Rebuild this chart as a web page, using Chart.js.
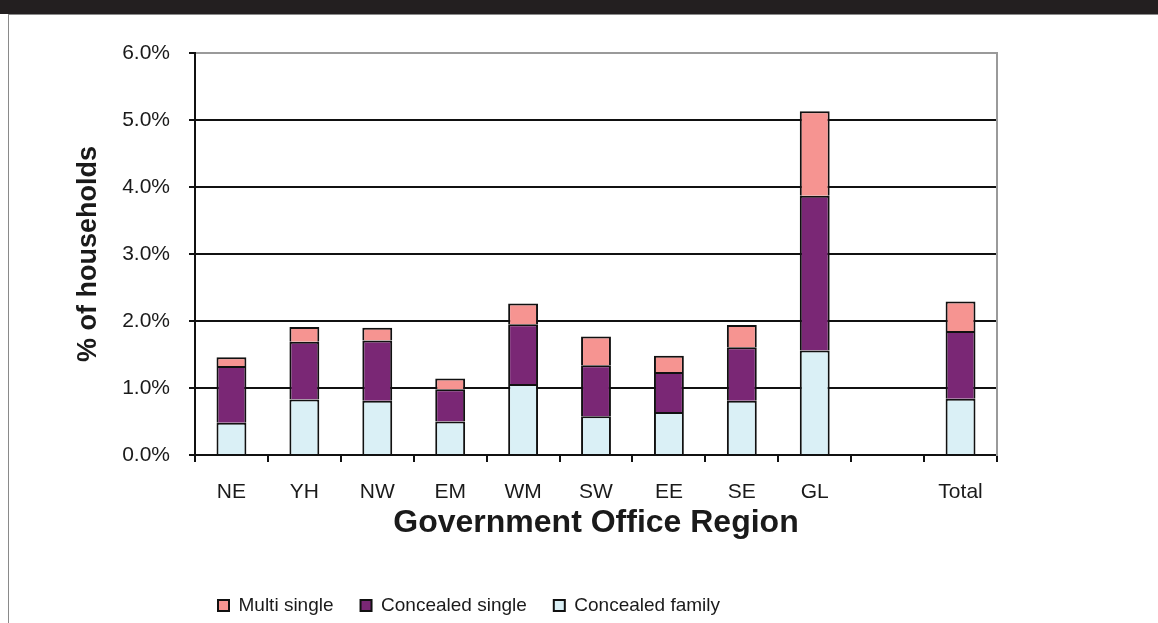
<!DOCTYPE html>
<html>
<head>
<meta charset="utf-8">
<script src="https://cdn.jsdelivr.net/npm/chart.js@4.4.1/dist/chart.umd.min.js"></script>
<style>
  html, body { margin: 0; padding: 0; background: #fff; }
  body { width: 1158px; height: 623px; position: relative; overflow: hidden; }
  .top-band { position: absolute; left: 0; top: 0; width: 1158px; height: 14px; background: #231f20; }
  .frame { position: absolute; left: 8px; top: 14px; width: 1150px; height: 609px; border-left: 1px solid #8a8a8a; border-top: 1px solid #8a8a8a; box-sizing: border-box; }
  #chart { position: absolute; left: 0; top: 0; }
</style>
</head>
<body>
<div class="top-band"></div>
<div class="frame"></div>
<canvas id="chart" width="1158" height="623"></canvas>
<script>
// Share of households by Government Office Region (percent)
const categories = ['NE', 'YH', 'NW', 'EM', 'WM', 'SW', 'EE', 'SE', 'GL', '', 'Total'];
const concealedFamily = [0.48, 0.83, 0.81, 0.50, 1.06, 0.58, 0.64, 0.81, 1.56, null, 0.84];
const concealedSingle = [0.85, 0.86, 0.90, 0.48, 0.89, 0.76, 0.60, 0.80, 2.31, null, 1.01];
const multiSingle = [0.13, 0.22, 0.19, 0.16, 0.31, 0.43, 0.24, 0.33, 1.26, null, 0.44];
const yTicks = [0, 1, 2, 3, 4, 5, 6];

const FONT = "'Liberation Sans', Arial, sans-serif";
const INK = '#1a1a1a';

function barSet(label, data, fill) {
  return {
    label: label,
    data: data,
    backgroundColor: fill,
    borderColor: '#111',
    borderWidth: 2,
    barPercentage: 0.41,
    categoryPercentage: 1.0
  };
}

// legend sits left of centre in the original, nudge it after layout
const legendShift = {
  id: 'legendShift',
  afterLayout(chart) {
    if (chart.legend) chart.legend.left = 191;
  }
};

new Chart(document.getElementById('chart'), {
  type: 'bar',
  data: {
    labels: categories,
    datasets: [
      barSet('Concealed family', concealedFamily, '#DAF0F6'),
      barSet('Concealed single', concealedSingle, '#7A2775'),
      barSet('Multi single', multiSingle, '#F69491')
    ]
  },
  plugins: [legendShift],
  options: {
    responsive: false,
    animation: false,
    events: [],
    layout: { padding: { top: 53, right: 161, bottom: -2, left: 0 } },
    plugins: {
      tooltip: { enabled: false },
      legend: {
        position: 'bottom',
        align: 'start',
        reverse: true,
        labels: {
          boxWidth: 11,
          boxHeight: 11,
          padding: 27,
          color: INK,
          font: { family: FONT, size: 19 }
        }
      }
    },
    scales: {
      x: {
        stacked: true,
        afterFit: (scale) => { scale.height = 114; },
        grid: {
          offset: true,
          drawOnChartArea: false,
          drawTicks: true,
          tickLength: 7,
          color: '#111',
          lineWidth: 2
        },
        border: { color: '#111', width: 2 },
        ticks: {
          padding: 18,
          color: INK,
          maxRotation: 0,
          autoSkip: false,
          font: { family: FONT, size: 21 }
        },
        title: {
          display: true,
          text: 'Government Office Region',
          color: INK,
          padding: { top: 0, bottom: 27 },
          font: { family: FONT, size: 32, weight: 'bold' }
        }
      },
      y: {
        stacked: true,
        min: yTicks[0],
        max: yTicks[yTicks.length - 1],
        afterFit: (scale) => { scale.width = 195; },
        afterBuildTicks: (scale) => { scale.ticks = yTicks.map(v => ({ value: v })); },
        grid: {
          color: (ctx) => (ctx.tick && ctx.tick.value === 6 ? '#9a9a9a' : '#111'),
          tickColor: '#111',
          lineWidth: 2,
          tickLength: 6
        },
        border: { color: '#111', width: 2 },
        ticks: {
          padding: 19,
          color: INK,
          font: { family: FONT, size: 21 },
          callback: (v) => Number(v).toFixed(1) + '%'
        },
        title: {
          display: true,
          text: '% of households',
          color: INK,
          padding: { top: 72, bottom: 0 },
          font: { family: FONT, size: 27, weight: 'bold' }
        }
      },
      yRight: {
        position: 'right',
        min: yTicks[0],
        max: yTicks[yTicks.length - 1],
        afterFit: (scale) => { scale.width = 0; },
        grid: { display: false, drawTicks: false },
        ticks: { display: false },
        border: { color: '#9a9a9a', width: 2 }
      }
    }
  }
});
</script>
</body>
</html>
